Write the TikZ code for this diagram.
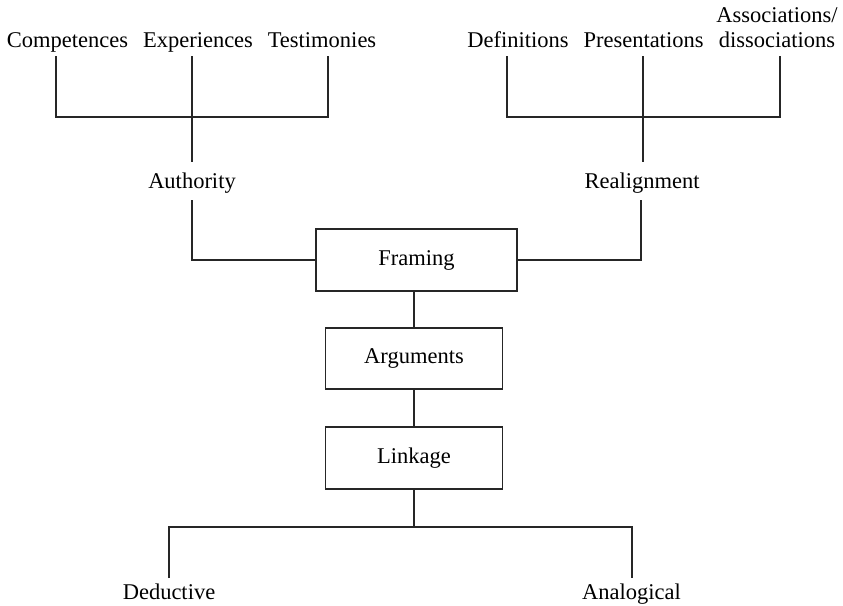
\documentclass[tikz,border=0pt]{standalone}
\usepackage{fontspec}
\setmainfont{Liberation Serif}
\begin{document}
\begin{tikzpicture}[x=1pt,y=-1pt,
  txt/.style={inner sep=0pt,font=\fontsize{22.5}{25}\selectfont},
  lbl/.style={txt,anchor=base},
  box/.style={txt,draw=black!85,line width=1.3pt,minimum width=#1,minimum height=62pt},
  wire/.style={draw=black!85,line width=1.3pt}]
\useasboundingbox (0,0) rectangle (843,605);

% upper labels
\node[lbl] (comp) at (67.5,47) {Competences};
\node[lbl] (expe) at (198,47) {Experiences};
\node[lbl] (test) at (322,47) {Testimonies};
\node[lbl] (defi) at (518,47) {Definitions};
\node[lbl] (pres) at (643.5,47) {Presentations};
\node[lbl,align=center] (asso) at (777,47) {Associations/\\dissociations};
\node[lbl] (auth) at (192,188) {Authority};
\node[lbl] (real) at (642,188) {Realignment};

% central chain
\node[box=201pt] (fram) at (416.5,260) {Framing};
\node[box=177pt,minimum height=61pt] (argu) at (414,358.5) {Arguments};
\node[box=177pt] (link) at (414,458) {Linkage};

% lower labels
\node[lbl] (dedu) at (169,599) {Deductive};
\node[lbl] (anal) at (631.5,599) {Analogical};

% branch points of the left bracket
\coordinate (cA) at (56,56);
\coordinate (cB) at (192,56);
\coordinate (cC) at (328,56);
\coordinate (barL) at (192,117);
\coordinate (authTop) at (192,162);
\coordinate (authBot) at (192,200);

% branch points of the right bracket
\coordinate (dA) at (507,56);
\coordinate (dB) at (643,56);
\coordinate (dC) at (780,56);
\coordinate (barR) at (643,117);
\coordinate (realTop) at (643,162);
\coordinate (realBot) at (641,200);

% branch points of the lower fork
\coordinate (fork) at (414,527);
\coordinate (dedTop) at (169,578);
\coordinate (anaTop) at (632,578);

% left bracket
\draw[wire] (cA) -- (cA |- barL) -- (cC |- barL) -- (cC);
\draw[wire] (cB) -- (authTop);
\draw[wire] (authBot) |- (fram.west);

% right bracket
\draw[wire] (dA) -- (dA |- barR) -- (dC |- barR) -- (dC);
\draw[wire] (dB) -- (realTop);
\draw[wire] (realBot) |- (fram.east);

% chain
\draw[wire] (argu.north |- fram.south) -- (argu.north);
\draw[wire] (link.north |- argu.south) -- (link.north);

% lower fork
\draw[wire] (link.south) -- (fork);
\draw[wire] (dedTop) -- (dedTop |- fork) -- (anaTop |- fork) -- (anaTop);
\end{tikzpicture}
\end{document}
